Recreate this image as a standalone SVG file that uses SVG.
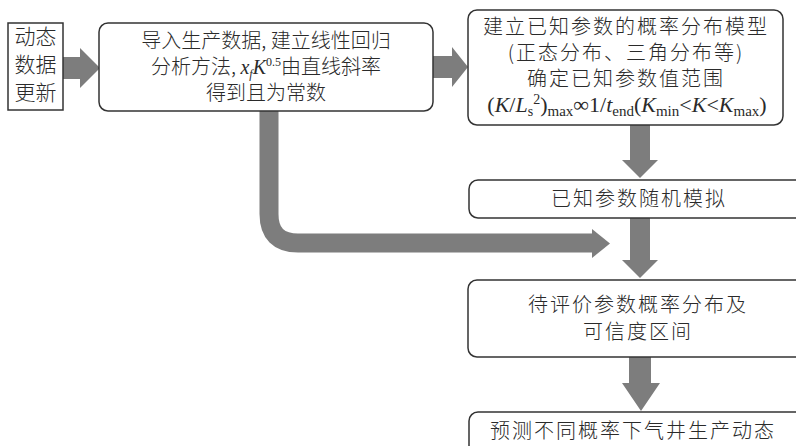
<svg xmlns="http://www.w3.org/2000/svg" width="796" height="446" viewBox="0 0 796 446">
<style>
.box{fill:#fff;stroke:#333;stroke-width:1.5}
.cn{font-family:"Noto Sans CJK SC","Noto Sans",sans-serif;font-size:20px;font-weight:300;fill:#2a2a2a;text-anchor:middle}
.cn2{font-family:"Noto Sans CJK SC","Noto Sans",sans-serif;font-size:20px;font-weight:300;fill:#2a2a2a;text-anchor:middle;letter-spacing:2px}
.tm{font-family:"Liberation Serif","Times New Roman",serif;fill:#2a2a2a}
.it{font-style:italic}
.arr{fill:#7d7d7d}
.pipe{fill:none;stroke:#7d7d7d;stroke-width:19}
</style>
<rect width="796" height="446" fill="#fff"/>
<g id="connectors">
  <path class="arr" d="M63,57 H80 V48 L100,68 L80,88 V79 H63 Z"/>
  <path class="arr" d="M433,56 H452 V47 L468,67 L452,87 V78 H433 Z"/>
  <path class="pipe" d="M269,111 V214 Q269,243 298,243 H593"/>
  <path class="arr" d="M592,229 L610,243.5 L592,258 Z"/>
  <path class="arr" d="M630,125 H650 V160 H658 L640,178 L622,160 H630 Z"/>
  <path class="arr" d="M630,218 H650 V260 H658 L640,278 L622,260 H630 Z"/>
  <path class="arr" d="M629,357 H651 V383 H660 L641,411 L622,383 H629 Z"/>
</g>
<g id="n1">
  <rect class="box" x="8" y="23" width="55" height="87"/>
  <text class="cn" x="35.5" y="44" style="font-size:21px">动态</text>
  <text class="cn" x="35.5" y="72" style="font-size:21px">数据</text>
  <text class="cn" x="35.5" y="100" style="font-size:21px">更新</text>
</g>
<g id="n2">
  <rect class="box" x="99" y="23" width="334" height="88" rx="9"/>
  <text class="cn" x="266" y="48">导入生产数据, 建立线性回归</text>
  <text class="cn" x="266" y="74">分析方法, <tspan class="tm it">x</tspan><tspan class="tm it" font-size="12" dy="4">f</tspan><tspan class="tm it" dy="-4">K</tspan><tspan class="tm" font-size="12" dy="-8">0.5</tspan><tspan dy="8">由直线斜率</tspan></text>
  <text class="cn" x="266" y="100">得到且为常数</text>
</g>
<g id="n3">
  <rect class="box" x="468" y="10" width="315" height="115" rx="9"/>
  <text class="cn2" x="626" y="34">建立已知参数的概率分布模型</text>
  <text class="cn2" x="626" y="60">(正态分布、三角分布等)</text>
  <text class="cn2" x="626" y="86">确定已知参数值范围</text>
  <text class="tm" x="627" y="112" font-size="22" text-anchor="middle">(<tspan class="it">K</tspan>/<tspan class="it">L</tspan><tspan font-size="14" dy="4">s</tspan><tspan font-size="14" dy="-12">2</tspan><tspan dy="8">)</tspan><tspan font-size="15" dy="4">max</tspan><tspan dy="-4">∞1/</tspan><tspan class="it">t</tspan><tspan font-size="15" dy="4">end</tspan><tspan dy="-4">(</tspan><tspan class="it">K</tspan><tspan font-size="15" dy="4">min</tspan><tspan dy="-4">&lt;</tspan><tspan class="it">K</tspan>&lt;<tspan class="it">K</tspan><tspan font-size="15" dy="4">max</tspan><tspan dy="-4">)</tspan></text>
</g>
<g id="n4">
  <rect class="box" x="469" y="180" width="345" height="38" rx="9"/>
  <text class="cn2" x="639" y="206">已知参数随机模拟</text>
</g>
<g id="n5">
  <rect class="box" x="468" y="280" width="346" height="77" rx="9"/>
  <text class="cn2" x="638" y="312">待评价参数概率分布及</text>
  <text class="cn2" x="638" y="339">可信度区间</text>
</g>
<g id="n6">
  <rect class="box" x="469" y="412" width="345" height="50" rx="9"/>
  <text class="cn2" x="633" y="438">预测不同概率下气井生产动态</text>
</g>
</svg>
